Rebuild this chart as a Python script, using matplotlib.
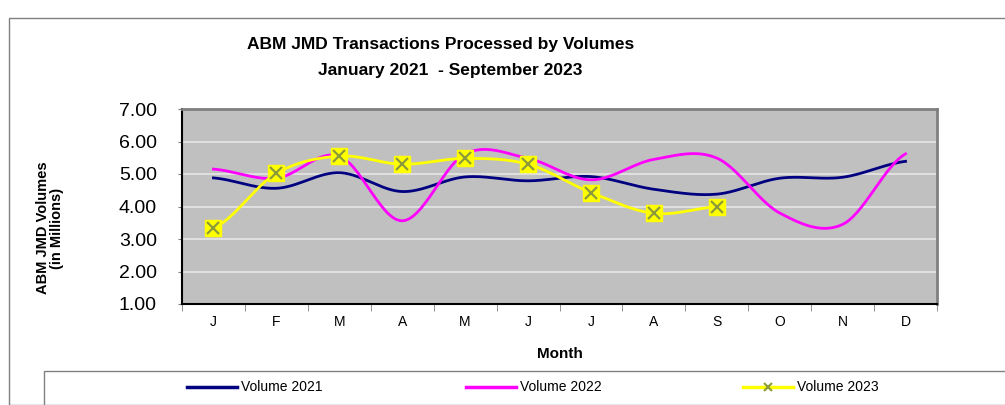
import matplotlib
matplotlib.use("Agg")
import matplotlib.pyplot as plt
import numpy as np
from matplotlib.patches import Rectangle
from matplotlib.lines import Line2D

# monthly volumes in millions
months = ["J", "F", "M", "A", "M", "J", "J", "A", "S", "O", "N", "D"]
vol_2021 = [4.88, 4.56, 5.04, 4.46, 4.91, 4.79, 4.92, 4.53, 4.38, 4.87, 4.90, 5.39]
vol_2022 = [5.15, 4.87, 5.55, 3.56, 5.62, 5.48, 4.82, 5.45, 5.49, 3.80, 3.45, 5.62]
vol_2023 = [3.33, 5.02, 5.55, 5.30, 5.48, 5.30, 4.43, 3.79, 3.99]

plt.rcParams["font.family"] = ["Liberation Sans", "DejaVu Sans"]


# excel style smoothing (catmull-rom through every point)
def smooth(y, n=30):
    y = np.asarray(y, dtype=float)
    x = np.arange(len(y), dtype=float)
    xs, ys = [], []
    for i in range(len(y) - 1):
        p0 = y[i - 1] if i > 0 else y[i]
        p3 = y[i + 2] if i + 2 < len(y) else y[i + 1]
        p1, p2 = y[i], y[i + 1]
        t = np.linspace(0, 1, n, endpoint=False)
        c1 = p1 + (p2 - p0) / 6
        c2 = p2 - (p3 - p1) / 6
        seg = (1 - t) ** 3 * p1 + 3 * (1 - t) ** 2 * t * c1 + 3 * (1 - t) * t ** 2 * c2 + t ** 3 * p2
        xs.append(x[i] + t)
        ys.append(seg)
    xs.append([x[-1]])
    ys.append([y[-1]])
    return np.concatenate(xs), np.concatenate(ys)


fig = plt.figure(figsize=(10.05, 4.05), dpi=100)

# outer chart border and legend box
fig.patches.append(Rectangle((9 / 1005, 0), 1.2, 1 - 18 / 405, transform=fig.transFigure,
                             fill=False, edgecolor="#808080", lw=1))
fig.patches.append(Rectangle((44 / 1005, -0.2), 1.2, 0.2 + (405 - 371) / 405, transform=fig.transFigure,
                             fill=False, edgecolor="#808080", lw=1))

ax = fig.add_axes([182 / 1005, 101 / 405, 755 / 1005, 195 / 405])
ax.set_facecolor("#C0C0C0")

xpos = np.arange(len(months))
sx, sy = smooth(vol_2021)
ax.plot(sx, sy, color="#000080", lw=2.0, zorder=3)
sx, sy = smooth(vol_2022)
ax.plot(sx, sy, color="#FF00FF", lw=2.0, zorder=3)
sx, sy = smooth(vol_2023)
ax.plot(sx, sy, color="#FFFF00", lw=2.0, zorder=4)
ax.plot(xpos[:len(vol_2023)], vol_2023, ls="none", marker="s", ms=11,
        mfc="#FFFF00", mec="#FFFF00", zorder=5)
ax.plot(xpos[:len(vol_2023)], vol_2023, ls="none", marker="x", ms=9, mew=1.6,
        color="#8C9A3C", zorder=6)

ax.set_xlim(-0.5, 11.5)
ax.set_ylim(1, 7)
ax.set_yticks(np.arange(1, 8))
ax.set_yticklabels([f"{v:.2f}" for v in np.arange(1, 8)], fontsize=14)
ax.yaxis.grid(True, color="#E6E6E6", lw=1.2)
ax.set_axisbelow(True)

ax.set_xticks(xpos)
ax.set_xticklabels(months, fontsize=10)
ax.set_xticks(np.arange(-0.5, 12, 1), minor=True)
ax.tick_params(axis="x", which="major", length=0, pad=8)
ax.tick_params(axis="x", which="minor", length=5, color="#808080")
ax.tick_params(axis="y", length=3, color="#808080", pad=15)

for s in ["top", "right"]:
    ax.spines[s].set_color("#808080")
    ax.spines[s].set_linewidth(2)
for s in ["left", "bottom"]:
    ax.spines[s].set_color("black")
    ax.spines[s].set_linewidth(1.5)

ax.set_xlabel("Month", fontsize=11, fontweight="bold", labelpad=13)
fig.text(50 / 1005, 1 - 228 / 405, "ABM JMD Volumes\n(in Millions)", rotation=90,
         ha="center", va="center", fontsize=10.5, fontweight="bold", linespacing=1.0)

fig.text(441 / 1005, 1 - 45 / 405, "ABM JMD Transactions Processed by Volumes",
         ha="center", va="center", fontsize=12.5, fontweight="bold")
fig.text(450 / 1005, 1 - 71 / 405, "January 2021  - September 2023",
         ha="center", va="center", fontsize=12.5, fontweight="bold")

# legend drawn by hand to sit in the bottom box
leg_y = 1 - 387 / 405
items = [("Volume 2021", "#000080", 187), ("Volume 2022", "#FF00FF", 466), ("Volume 2023", "#FFFF00", 743)]
for label, col, x0 in items:
    fig.lines.append(Line2D([x0 / 1005, (x0 + 50) / 1005], [leg_y, leg_y], transform=fig.transFigure,
                            color=col, lw=2.5))
    fig.text((x0 + 54) / 1005, leg_y, label, ha="left", va="center", fontsize=10)
fig.lines.append(Line2D([768 / 1005], [leg_y], transform=fig.transFigure, ls="none",
                        marker="x", ms=6, mew=1.5, color="#8C9A3C"))

fig.savefig("out.png", dpi=100)
